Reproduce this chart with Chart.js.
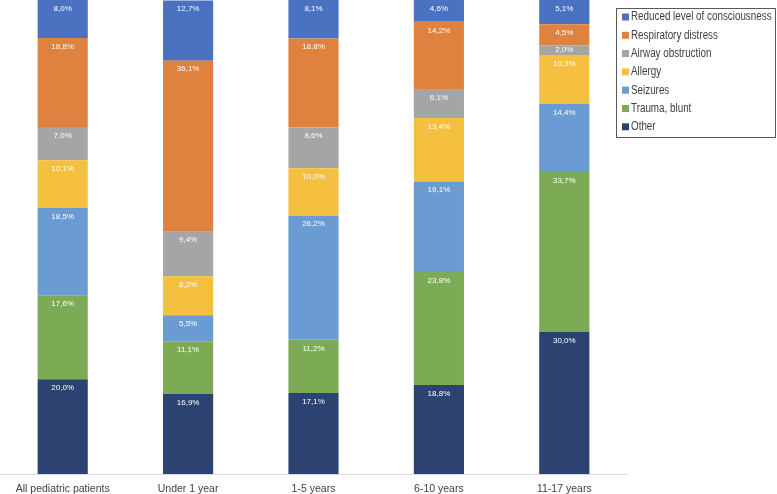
<!DOCTYPE html>
<html>
<head>
<meta charset="utf-8">
<script src="https://cdn.jsdelivr.net/npm/chart.js@4"></script>
<style>
  html, body { margin: 0; padding: 0; background: #fff; }
  #wrap { width: 777px; height: 494px; }
</style>
</head>
<body>
<div id="wrap"><canvas id="chart" width="777" height="494"></canvas></div>
<script>
// age groups
var groups = ['All pediatric patients', 'Under 1 year', '1-5 years', '6-10 years', '11-17 years'];

// share of each cause per group (%), legend order
var reducedConsciousness = [8.0, 12.7, 8.1, 4.6, 5.1];
var respiratoryDistress = [18.8, 36.1, 18.8, 14.2, 4.5];
var airwayObstruction = [7.0, 9.4, 8.6, 6.1, 2.0];
var allergy = [10.1, 8.2, 10.0, 13.4, 10.3];
var seizures = [18.5, 5.5, 26.2, 19.1, 14.4];
var traumaBlunt = [17.6, 11.1, 11.2, 23.8, 33.7];
var other = [20.0, 16.9, 17.1, 18.8, 30.0];

var series = [
    { label: 'Reduced level of consciousness', data: reducedConsciousness, color: '#4a72c0' },
    { label: 'Respiratory distress', data: respiratoryDistress, color: '#e0823f' },
    { label: 'Airway obstruction', data: airwayObstruction, color: '#a5a5a5' },
    { label: 'Allergy', data: allergy, color: '#f5c040' },
    { label: 'Seizures', data: seizures, color: '#6a9bd3' },
    { label: 'Trauma, blunt', data: traumaBlunt, color: '#7dab55' },
    { label: 'Other', data: other, color: '#2c4270' },
];

function fmt(v) {
    return v.toFixed(1).replace('.', ',') + '%';
}

// white value labels near the top of each segment
const segmentLabels = {
    id: 'segmentLabels',
    afterDatasetsDraw: (chart) => {
        const {ctx} = chart;
        ctx.save();
        ctx.fillStyle = '#fff';
        ctx.font = '8px "Liberation Sans", sans-serif';
        ctx.textAlign = 'center';
        ctx.textBaseline = 'middle';
        chart.data.datasets.forEach(function(ds, i) {
            chart.getDatasetMeta(i).data.forEach(function(el, j) {
                let h = el.base - el.y;
                let off = Math.min(8.5, h / 2);
                ctx.fillText(fmt(ds.data[j]), el.x, el.y + off);
            });
        });
        ctx.restore();
    }
};

// boxed legend at top right
const boxLegend = {
    id: 'boxLegend',
    afterDraw: (chart) => {
        const {ctx} = chart;
        ctx.save();
        ctx.strokeStyle = '#595959';
        ctx.lineWidth = 1;
        ctx.strokeRect(616.5, 8.5, 159, 129);
        ctx.font = '12px "Liberation Sans", sans-serif';
        ctx.textBaseline = 'middle';
        ctx.textAlign = 'left';
        series.forEach(function(s, i) {
            let y = 17 + i * 18.3;
            ctx.fillStyle = s.color;
            ctx.fillRect(622, y - 3.5, 7, 7);
            ctx.fillStyle = '#404040';
            // squeeze a little to match the narrow original face
            ctx.save();
            ctx.translate(631, y);
            ctx.scale(0.82, 1);
            ctx.fillText(s.label, 0, 0);
            ctx.restore();
        });
        ctx.restore();
    }
};

let ctx = document.getElementById('chart');

new Chart(ctx, {
    type: 'bar',
    data: {
        labels: groups,
        // first dataset sits at the bottom of the stack
        datasets: series.slice().reverse().map(function(s) {
            return {
                label: s.label,
                data: s.data,
                backgroundColor: s.color,
                borderWidth: 0,
                categoryPercentage: 1.0,
                barPercentage: 0.4,
            };
        }),
    },
    options: {
        responsive: false,
        animation: false,
        layout: {
            padding: { left: 0, right: 150, top: 0, bottom: 0 },
        },
        plugins: {
            legend: { display: false },
            tooltip: { enabled: false },
        },
        scales: {
            x: {
                stacked: true,
                grid: { display: false },
                border: { display: true, color: '#d9d9d9', width: 1 },
                ticks: {
                    color: '#404040',
                    font: { family: 'Liberation Sans', size: 10.5 },
                    padding: 1,
                    maxRotation: 0,
                },
                afterFit: function(scale) { scale.height = 20; },
            },
            y: {
                stacked: true,
                display: false,
                min: 0,
                max: 100,
            },
        },
    },
    plugins: [segmentLabels, boxLegend],
});
</script>
</body>
</html>
